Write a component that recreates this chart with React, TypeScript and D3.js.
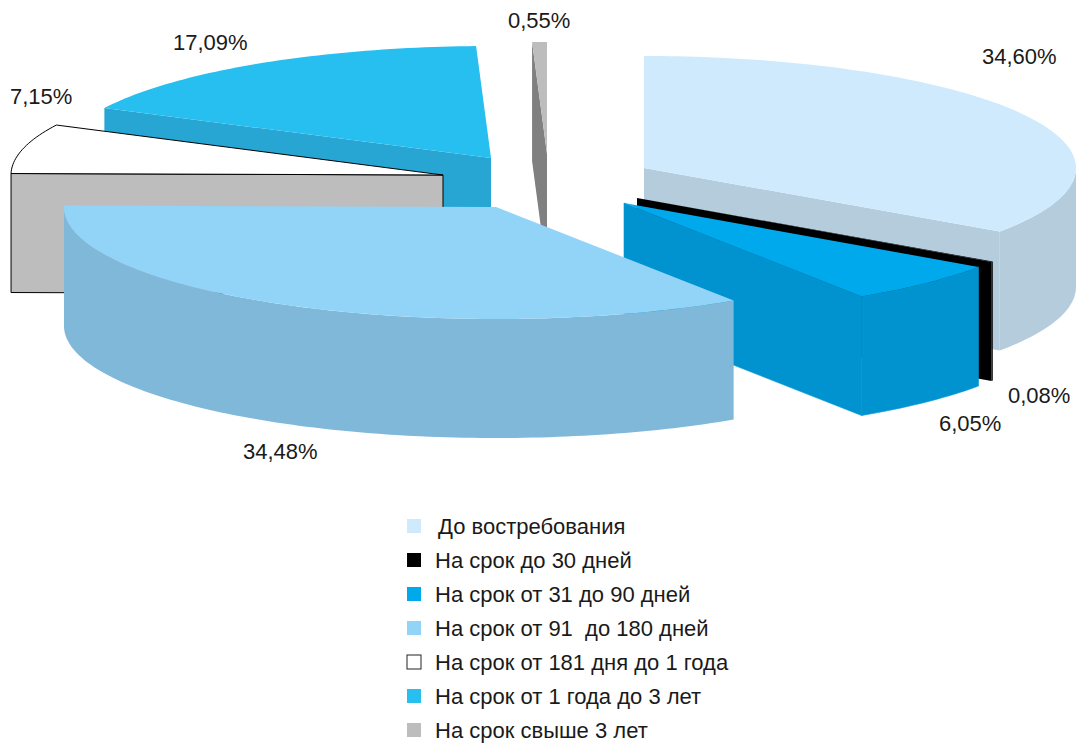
import React from "react";
import * as d3 from "d3";

const categories = [
  "До востребования",
  "На срок до 30 дней",
  "На срок от 31 до 90 дней",
  "На срок от 91  до 180 дней",
  "На срок от 181 дня до 1 года",
  "На срок от 1 года до 3 лет",
  "На срок свыше 3 лет",
];
const values = [34.6, 0.08, 6.05, 34.48, 7.15, 17.09, 0.55];
const valueLabels = ["34,60%", "0,08%", "6,05%", "34,48%", "7,15%", "17,09%", "0,55%"];

const topColors = ["#cfeafd", "#000000", "#00a8ec", "#92d4f8", "#ffffff", "#27bff0", "#bdbdbd"];
const wallColors = ["#b5ccdd", "#000000", "#0093cf", "#7fb8d9", "#bdbdbd", "#27a6d3", "#808080"];

// exploded apex of each slice, in pixels
const apexX = [644, 637, 624, 496, 443, 491, 547];
const apexY = [168, 198, 203, 207, 175, 158, 154];
const labelX = [982, 1008, 939, 243, 10, 173, 508];
const labelY = [64, 403, 431, 459, 104, 50, 28];
const drawOrder = [6, 5, 4, 0, 1, 2, 3];

const RX = 432;
const RY = 112;
const DEPTH = 119;
const LEGEND_X = 407;
const LEGEND_TEXT_X = 435;
const LEGEND_Y0 = 526;
const LEGEND_STEP = 34;
const FONT = "'Liberation Sans', Arial, Helvetica, sans-serif";

const pieAngles = d3
  .pie<number>()
  .sort(null)
  .value((d) => d)(values);

const px = d3.scaleLinear().domain([-1, 1]).range([-RX, RX]);
const py = d3.scaleLinear().domain([-1, 1]).range([RY, -RY]);

type P = [number, number];
const linePath = d3.line<P>();

function rim(i: number, a0: number, a1: number, dy = 0): P[] {
  const n = Math.max(2, Math.ceil(Math.abs(a1 - a0) / 0.02));
  return d3.range(n + 1).map((k) => {
    const a = a0 + ((a1 - a0) * k) / n;
    return [apexX[i] + px(Math.sin(a)), apexY[i] + py(Math.cos(a)) + dy] as P;
  });
}
const apex = (i: number, dy = 0): P => [apexX[i], apexY[i] + dy];

function topPath(i: number) {
  const { startAngle, endAngle } = pieAngles[i];
  return linePath([apex(i), ...rim(i, startAngle, endAngle)]) + "Z";
}
function radialWall(i: number, a: number) {
  const edge = rim(i, a, a + 0.0001);
  const p = edge[0];
  return linePath([apex(i), p, [p[0], p[1] + DEPTH], apex(i, DEPTH)]) + "Z";
}
function outerWall(i: number) {
  const { startAngle, endAngle } = pieAngles[i];
  const a0 = Math.max(startAngle, Math.PI / 2);
  const a1 = Math.min(endAngle, (3 * Math.PI) / 2);
  if (a1 <= a0) return null;
  return linePath([...rim(i, a0, a1), ...rim(i, a0, a1, DEPTH).reverse()]) + "Z";
}

export default function App() {
  return (
    <svg
      width={1081}
      height={745}
      style={{ position: "absolute", left: 0, top: 0, display: "block", background: "#fff" }}
      fontFamily={FONT}
    >
      {drawOrder.map((i) => {
        const { startAngle, endAngle } = pieAngles[i];
        const strokeProps =
          i === 4
            ? { stroke: "#000", strokeWidth: 1 }
            : i === 2
              ? { stroke: wallColors[2], strokeWidth: 0.6 }
              : {};
        const walls: string[] = [];
        if (Math.sin(startAngle) < 0) walls.push(radialWall(i, startAngle));
        if (Math.sin(endAngle) > 0) walls.push(radialWall(i, endAngle));
        const outer = outerWall(i);
        if (outer) walls.push(outer);
        return (
          <g key={categories[i]}>
            {walls.map((d, k) => (
              <path key={k} d={d} fill={wallColors[i]} {...strokeProps} />
            ))}
            <path d={topPath(i)} fill={topColors[i]} {...(i === 4 ? strokeProps : {})} />
          </g>
        );
      })}
      {valueLabels.map((t, i) => (
        <text key={t} x={labelX[i]} y={labelY[i]} fontSize={22} fill="#1a1a1a">
          {t}
        </text>
      ))}
      {categories.map((c, i) => {
        const y = LEGEND_Y0 + i * LEGEND_STEP;
        return (
          <g key={c}>
            <rect
              x={LEGEND_X}
              y={y - 7}
              width={14}
              height={14}
              fill={topColors[i]}
              stroke={i === 4 ? "#222" : "none"}
              strokeWidth={1}
            />
            <text
              x={i === 0 ? LEGEND_TEXT_X + 3 : LEGEND_TEXT_X}
              y={y + 8}
              fontSize={22}
              fill="#1a1a1a"
              style={{ whiteSpace: "pre" }}
            >
              {c}
            </text>
          </g>
        );
      })}
    </svg>
  );
}
